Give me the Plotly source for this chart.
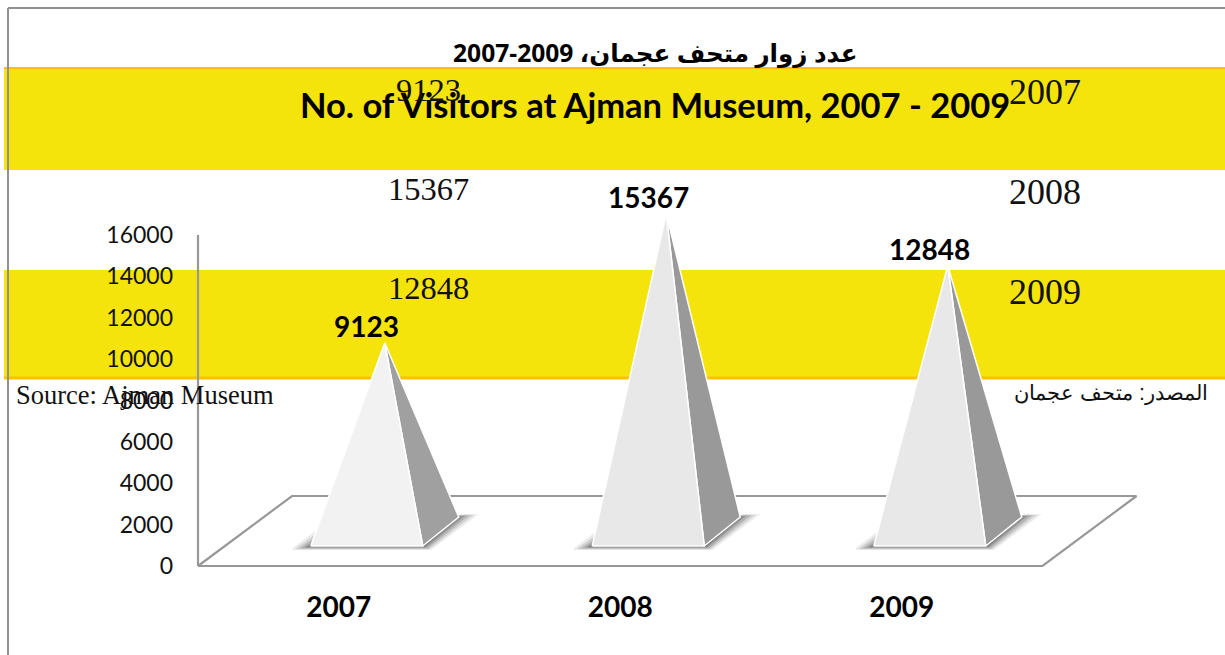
import plotly.graph_objects as go

# ---- data ----
years = ["2007", "2008", "2009"]
visitors = [9123, 15367, 12848]
y_ticks = [0, 2000, 4000, 6000, 8000, 10000, 12000, 14000, 16000]
title_ar = "\u202bعدد زوار متحف عجمان، \u200e2007-2009\u202c"
title_en = "No. of Visitors at Ajman Museum, 2007 - 2009"
source_en = "Source: Ajman Museum"
source_ar = "المصدر: متحف عجمان"
front_colors = ["#F2F2F2", "#E8E8E8", "#E8E8E8"]
side_colors = ["#A0A0A0", "#999999", "#999999"]

# ---- page geometry (pixels) ----
W, H = 1225, 655
BOX_LEFT, BOX_BOTTOM = 190, 575   # plot box, a little larger than the axes so lines are not clipped
ORIGIN_X, ORIGIN_Y = 198, 566     # where value 0 / left edge of the categories sit
UX = 281.5                        # pixels per category
UY = 331 / 16000                  # pixels per visitor
GREY = "#989898"
YELLOW = "#F5E30C"
ORANGE = "#FFC000"
SANS = "Lato"
SERIF = "Liberation Serif"


def px(x):
    return (x - BOX_LEFT) / (W - BOX_LEFT)


def py(y):
    return (BOX_BOTTOM - y) / BOX_BOTTOM


def dx(p):
    return p / UX


def dy(p):
    return p / UY


fig = go.Figure()

# floor of the 3-D chart
floor_dx, floor_dy = dx(94), dy(70)
fig.add_trace(go.Scatter(
    x=[-0.5, -0.5 + floor_dx, 2.5 + floor_dx, 2.5, -0.5],
    y=[0, floor_dy, floor_dy, 0, 0],
    mode="lines", line=dict(color=GREY, width=2.2), hoverinfo="skip"))
# vertical axis
fig.add_trace(go.Scatter(
    x=[-0.5, -0.5], y=[0, y_ticks[-1]],
    mode="lines", line=dict(color=GREY, width=2.2), hoverinfo="skip"))

# pyramids
cx_off = dx(46)
base_mid = dy(34.5)
for i, (val, fc, sc) in enumerate(zip(visitors, front_colors, side_colors)):
    c = i + cx_off
    fl, fr = c - dx(74), c + dx(38)
    br = c + dx(74)
    yf, yb = base_mid - dy(14.5), base_mid + dy(14.5)
    apex = base_mid + val
    # soft shadow, built up from translucent layers
    for grow, alpha in [(1.0, 0.10), (0.8, 0.14), (0.6, 0.2), (0.4, 0.28), (0.2, 0.36)]:
        fig.add_trace(go.Scatter(
            x=[fl - dx(18 * grow), fl + dx(6), fr, br - dx(4), br + dx(20 * grow),
               fr + dx(8 * grow), fl - dx(18 * grow)],
            y=[yf - dy(2), yf + dy(16 * grow), yf, yb, yb + dy(3),
               yf - dy(4 * grow), yf - dy(4 * grow)],
            mode="lines", line=dict(width=0), fill="toself",
            fillcolor=f"rgba(60,60,60,{alpha})", hoverinfo="skip"))
    # side face
    fig.add_trace(go.Scatter(
        x=[fr, br, c, fr], y=[yf, yb, apex, yf],
        mode="lines", fill="toself", fillcolor=sc,
        line=dict(color="#FFFFFF", width=1.5), hoverinfo="skip"))
    # front face
    fig.add_trace(go.Scatter(
        x=[fl, fr, c, fl], y=[yf, yf, apex, yf],
        mode="lines", fill="toself", fillcolor=fc,
        line=dict(color="#FFFFFF", width=1.5), hoverinfo="skip"))

annotations = []


def note(text, x, y, size, family=SANS, weight=400, anchor="center", color="#000000"):
    annotations.append(dict(
        text=text, xref="paper", yref="paper", x=px(x), y=py(y),
        xanchor=anchor, yanchor="middle", showarrow=False,
        font=dict(family=family, size=size, weight=weight, color=color)))


note(title_ar, 655, 53, 24.6, family="Noto Sans, DejaVu Sans", weight=700)
note(title_en, 655, 105, 34.5, weight=700)
note(source_en, 14, 395, 26.5, family=SERIF, anchor="left", color="#111111")
note(source_ar, 1210, 393, 21.4, family="Liberation Sans", anchor="right", color="#111111")

# the table behind the picture
table_y = [(90, 92), (189, 192), (288, 292)]
for val, yr, (yv, yy) in zip(visitors, years, table_y):
    note(str(val), 428, yv, 32.5, family=SERIF, color="#111111")
    note(yr, 1045, yy, 36, family=SERIF, color="#111111")

# bold value labels over the pyramid tips
for i, val in enumerate(visitors):
    annotations.append(dict(
        text=str(val), xref="x", yref="y", x=i + cx_off, y=base_mid + val,
        xshift=-18, yshift=17, xanchor="center", yanchor="middle", showarrow=False,
        font=dict(family=SANS, size=28, weight=700, color="#000000")))


def band(y0, y1):
    return dict(type="rect", xref="paper", yref="paper", x0=px(4), x1=px(W),
                y0=py(y0), y1=py(y1), fillcolor=YELLOW, line=dict(width=0), layer="below")


def rule(x0, y0, x1, y1, color, width):
    return dict(type="line", xref="paper", yref="paper", x0=px(x0), x1=px(x1),
                y0=py(y0), y1=py(y1), line=dict(color=color, width=width), layer="below")


shapes = [
    band(68, 170),
    band(270, 378),
    rule(4, 68, W, 68, ORANGE, 2),
    rule(4, 378, W, 378, ORANGE, 3),
    rule(8, 8, W, 8, "#909090", 2),
    rule(8, 8, 8, H, "#909090", 2),
]

x_low = -0.5 - dx(ORIGIN_X - BOX_LEFT)
y_low = -dy(BOX_BOTTOM - ORIGIN_Y)

fig.update_layout(
    width=W, height=H,
    margin=dict(l=BOX_LEFT, r=0, t=0, b=H - BOX_BOTTOM, pad=0, autoexpand=False),
    paper_bgcolor="#FFFFFF", plot_bgcolor="rgba(0,0,0,0)",
    showlegend=False, hovermode=False,
    shapes=shapes, annotations=annotations,
    xaxis=dict(
        range=[x_low, x_low + dx(W - BOX_LEFT)], tickmode="array",
        tickvals=[0, 1, 2], ticktext=years, showgrid=False, zeroline=False,
        showline=False, ticks="", ticklabelstandoff=13,
        tickfont=dict(family=SANS, size=28, weight=700, color="#000000")),
    yaxis=dict(
        range=[y_low, y_low + dy(BOX_BOTTOM)], tickmode="array",
        tickvals=y_ticks, ticktext=[str(t) for t in y_ticks],
        showgrid=False, zeroline=False, showline=False, ticks="",
        ticklabelstandoff=16,
        tickfont=dict(family=SANS, size=23, color="#111111")),
)

fig.write_html("out.html", config={"displayModeBar": False},
               post_script="document.body.style.margin='0';document.body.style.overflow='hidden';")
